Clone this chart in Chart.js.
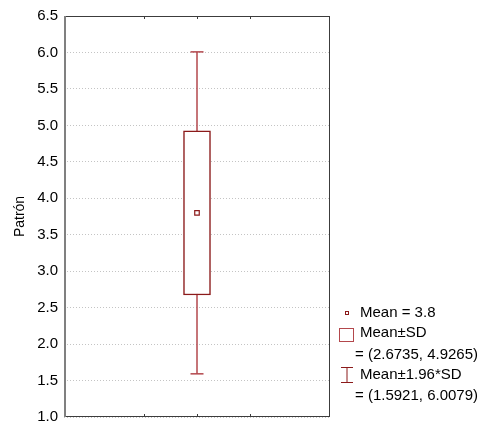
<!DOCTYPE html>
<html>
<head>
<meta charset="utf-8">
<script src="https://cdn.jsdelivr.net/npm/chart.js@4/dist/chart.umd.min.js"></script>
<style>
  html, body { margin: 0; padding: 0; background: #fff; }
  #wrap { width: 491px; height: 426px; }
</style>
</head>
<body>
<div id="wrap"><canvas id="boxChart"></canvas></div>
<script>
// valeurs
const categories = ['Patrón'];
const meanValue = [3.8];
const sdRange = [2.6735, 4.9265];
const ciRange = [1.5921, 6.0079];
const yTicks = [1.0, 1.5, 2.0, 2.5, 3.0, 3.5, 4.0, 4.5, 5.0, 5.5, 6.0, 6.5];

const boxColor = '#8b1a1a';
const whiskerColor = '#b3474c';
const fontFamily = 'Arial, "Liberation Sans", sans-serif';

// cadre + petites graduations vers l'intérieur
const framePlugin = {
  id: 'frame',
  afterDatasetsDraw(chart) {
    const { ctx, chartArea: a, scales } = chart;
    ctx.save();
    ctx.strokeStyle = '#3c3c3c';
    ctx.lineWidth = 1;
    ctx.beginPath();
    ctx.moveTo(a.left, a.top + 0.5); ctx.lineTo(a.right, a.top + 0.5);
    ctx.moveTo(a.left, a.bottom - 0.5); ctx.lineTo(a.right, a.bottom - 0.5);
    ctx.moveTo(a.right - 0.5, a.top); ctx.lineTo(a.right - 0.5, a.bottom);
    [1, 2, 3].forEach(v => {
      const x = Math.round(scales.x.getPixelForValue(v)) + 0.5;
      ctx.moveTo(x, a.top); ctx.lineTo(x, a.top + 3);
      ctx.moveTo(x, a.bottom); ctx.lineTo(x, a.bottom - 3);
    });
    ctx.stroke();
    ctx.strokeStyle = '#808080';
    ctx.lineWidth = 2;
    ctx.beginPath();
    ctx.moveTo(a.left + 1, a.top); ctx.lineTo(a.left + 1, a.bottom);
    ctx.stroke();
    ctx.restore();
  }
};

// légende dessinée à la main (avec les intervalles)
const legendPlugin = {
  id: 'boxLegend',
  afterDraw(chart) {
    const { ctx, chartArea: a } = chart;
    const x0 = a.right + 10;
    ctx.save();
    ctx.font = '15px ' + fontFamily;
    ctx.fillStyle = '#000';
    ctx.textBaseline = 'middle';
    // moyenne
    ctx.strokeStyle = boxColor;
    ctx.lineWidth = 1;
    ctx.strokeRect(x0 + 5.5, 311.5, 3, 3);
    ctx.fillText('Mean = ' + meanValue[0], x0 + 20, 313);
    // boîte
    ctx.strokeStyle = whiskerColor;
    ctx.strokeRect(x0 - 0.5, 328.5, 14, 13);
    ctx.fillText('Mean\u00b1SD', x0 + 20, 333);
    ctx.fillText('= (' + sdRange[0].toFixed(4) + ', ' + sdRange[1].toFixed(4) + ')', x0 + 15, 355);
    // moustaches
    ctx.strokeStyle = boxColor;
    ctx.beginPath();
    ctx.moveTo(x0 + 1, 367.5); ctx.lineTo(x0 + 13, 367.5);
    ctx.moveTo(x0 + 7, 367.5); ctx.lineTo(x0 + 7, 382.5);
    ctx.moveTo(x0 + 1, 382.5); ctx.lineTo(x0 + 13, 382.5);
    ctx.stroke();
    ctx.fillText('Mean\u00b11.96*SD', x0 + 20, 375);
    ctx.fillText('= (' + ciRange[0].toFixed(4) + ', ' + ciRange[1].toFixed(4) + ')', x0 + 15, 396);
    ctx.restore();
  }
};

const ctx = document.getElementById('boxChart').getContext('2d');
new Chart(ctx, {
  type: 'bar',
  data: {
    datasets: [
      {
        type: 'scatter',
        label: 'Mean',
        data: [{ x: 2, y: meanValue[0] }],
        pointStyle: 'rect',
        pointRadius: 3.2,
        pointBorderWidth: 1.2,
        pointBackgroundColor: '#fff',
        pointBorderColor: boxColor,
        order: 0
      },
      {
        type: 'bar',
        label: 'Mean±SD',
        data: [{ x: 2, y: sdRange }],
        backgroundColor: '#fff',
        borderColor: boxColor,
        borderWidth: 1.5,
        borderSkipped: false,
        barThickness: 27,
        order: 1
      },
      {
        type: 'line',
        label: 'Mean±1.96*SD',
        data: [{ x: 2, y: ciRange[0] }, { x: 2, y: ciRange[1] }],
        borderColor: whiskerColor,
        borderWidth: 1.5,
        pointStyle: 'line',
        pointRadius: 6.5,
        pointBorderWidth: 1.5,
        pointBorderColor: whiskerColor,
        order: 2
      }
    ]
  },
  options: {
    responsive: true,
    maintainAspectRatio: false,
    animation: false,
    layout: { padding: { top: 16, right: 161, bottom: 9, left: 0 } },
    plugins: { legend: { display: false }, tooltip: { enabled: false } },
    scales: {
      x: {
        type: 'linear',
        min: 0,
        max: 4,
        ticks: { display: false, stepSize: 1 },
        grid: { display: false },
        border: { display: false },
        afterFit: s => { s.height = 0; }
      },
      y: {
        min: yTicks[0],
        max: yTicks[yTicks.length - 1],
        afterBuildTicks: s => { s.ticks = yTicks.map(v => ({ value: v })); },
        ticks: {
          color: '#000',
          font: { family: fontFamily, size: 15 },
          padding: 6,
          callback: v => v.toFixed(1)
        },
        grid: { color: '#c4c4c4', lineWidth: 1, drawTicks: false },
        border: { display: false, dash: [1, 2] },
        title: {
          display: true,
          text: categories[0],
          color: '#000',
          font: { family: fontFamily, size: 14 },
          padding: { top: 12, bottom: 0 }
        },
        afterFit: s => {
          s.width = 64;
          s.paddingTop = 0;
          s.paddingBottom = 0;
        }
      }
    }
  },
  plugins: [framePlugin, legendPlugin]
});
</script>
</body>
</html>
